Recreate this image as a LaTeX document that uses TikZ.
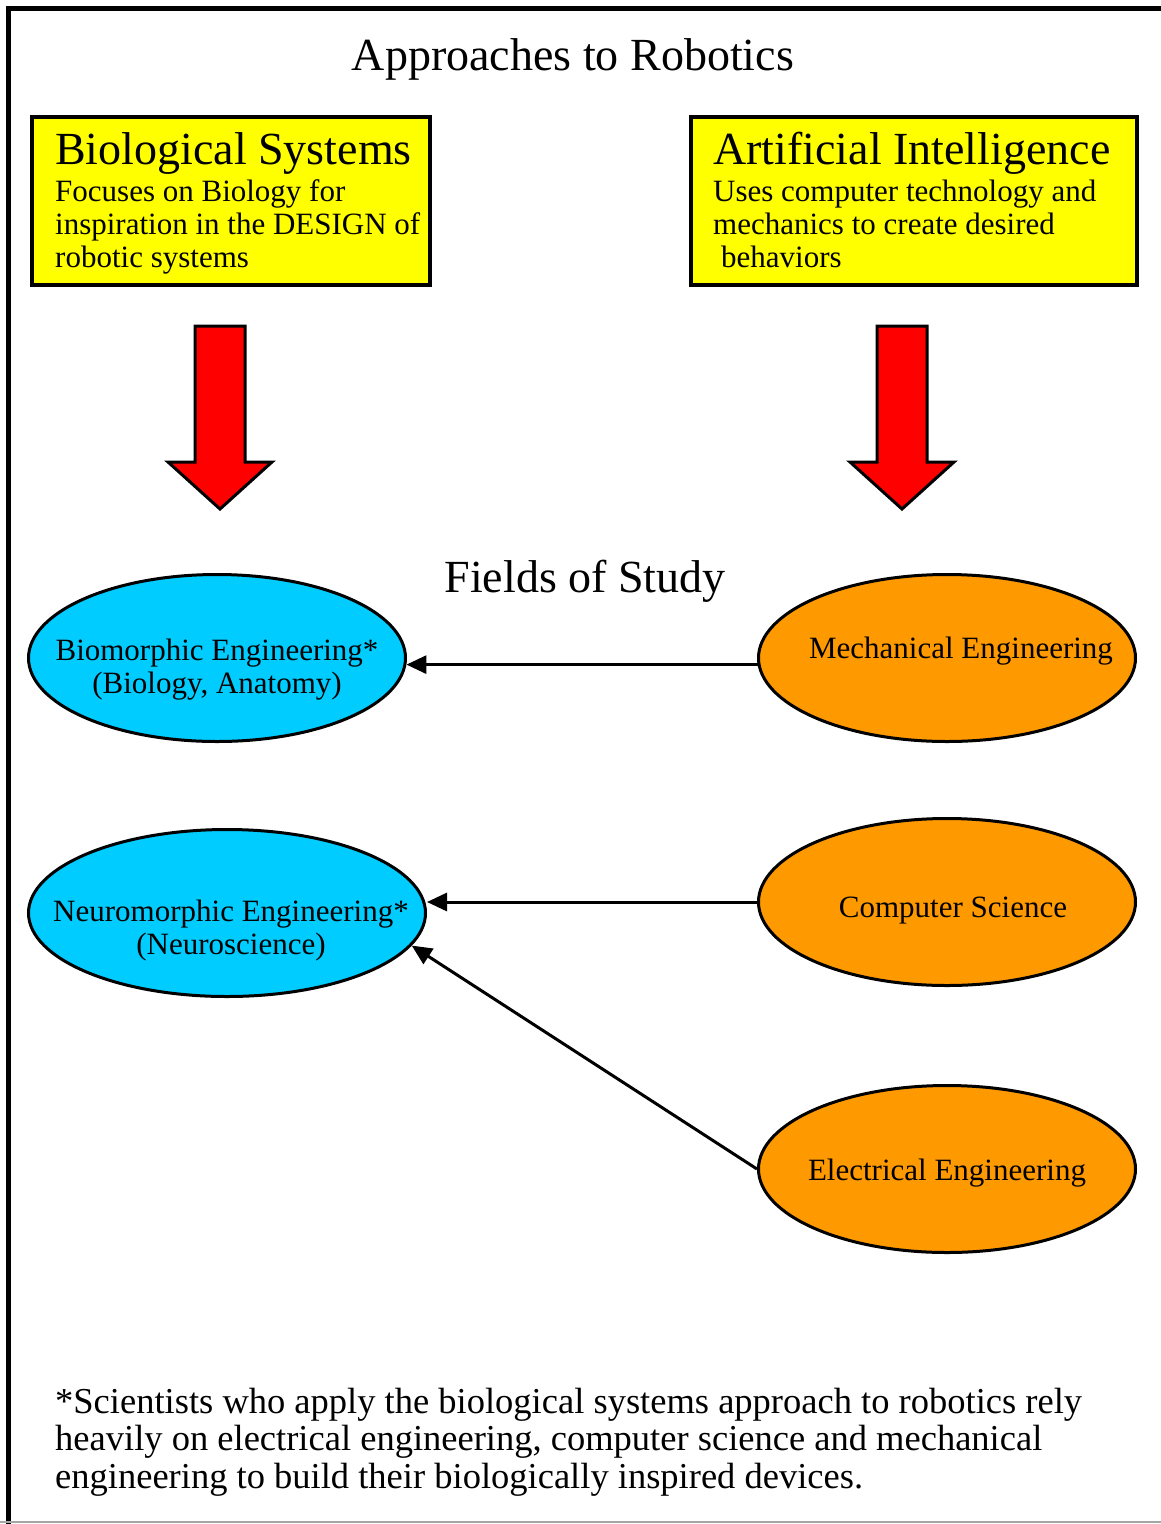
\documentclass[tikz,border=0pt]{standalone}
\usepackage{fontspec}
\setmainfont{Liberation Serif}
\usetikzlibrary{shapes.geometric, arrows.meta}

\definecolor{boxyellow}{HTML}{FFFF00}
\definecolor{biocyan}{HTML}{00CCFF}
\definecolor{aiorange}{HTML}{FF9900}
\definecolor{bigred}{HTML}{FF0000}

\tikzset{
	heading/.style = {font = \fontsize{46pt}{50pt}\selectfont, inner sep = 0pt},
	approach/.style = {draw, line width = 4pt, fill = boxyellow, anchor = north west, inner sep = 0pt, minimum height = 168pt},
	approachtext/.style = {font = \fontsize{31pt}{33pt}\selectfont, align = left, anchor = base west, inner sep = 0pt},
	field/.style = {ellipse, draw, line width = 3pt, minimum width = 377pt, minimum height = 167pt, inner sep = 0pt},
	fieldtext/.style = {font = \fontsize{31pt}{33pt}\selectfont, align = center, inner sep = 0pt},
	bigarrow/.style = {draw, line width = 3pt, fill = bigred, line join = miter},
	conn/.style = {line width = 3pt, -{Triangle[length = 20pt, width = 18pt]}}
}

\begin{document}
\begin{tikzpicture}[x = 1pt, y = -1pt]
	\useasboundingbox (0, 0) rectangle (1161, 1524);
	
	%	frame
	\draw[line width = 5pt] (8.5, 1524) -- (8.5, 8.5) -- (1161, 8.5);
	\draw[line width = 2pt, black!35] (0, 1522) -- (1161, 1522);
	
	%	titles
	\node[heading, anchor = base] (title) at (573, 70) {Approaches to Robotics};
	\node[heading, anchor = base] (fields) at (585, 592) {Fields of Study};
	
	%	approaches (base = last line)
	\node[approach, minimum width = 398pt] (biobox) at (30, 115) {};
	\node[approach, minimum width = 446pt] (aibox) at (689, 115) {};
	\node[approachtext] (biotext) at (55, 267) {{\fontsize{46pt}{50pt}\selectfont Biological Systems}\\[4pt]
		Focuses on Biology for\\ inspiration in the DESIGN of\\ robotic systems};
	\node[approachtext] (aitext) at (713, 267) {{\fontsize{46pt}{50pt}\selectfont Artificial Intelligence}\\[4pt]
		Uses computer technology and\\ mechanics to create desired\\ \hspace*{8pt}behaviors};
	
	%	red arrows
	\def\shaft{25}
	\def\head{52}
	\foreach \x in {220, 902}
		\draw[bigarrow] (\x-\shaft, 326) -- (\x+\shaft, 326) -- (\x+\shaft, 462) -- (\x+\head, 462)
			-- (\x, 509) -- (\x-\head, 462) -- (\x-\shaft, 462) -- cycle;
	
	%	fields of study
	\node[field, fill = biocyan, label = {[fieldtext, yshift = -12pt]center:{Biomorphic Engineering*\\(Biology, Anatomy)}}] (bio) at (217, 658) {};
	\node[field, fill = biocyan, minimum width = 397pt, label = {[fieldtext, xshift = 4pt, yshift = -18pt]center:{Neuromorphic Engineering*\\(Neuroscience)}}] (neuro) at (227, 913) {};
	\node[field, fill = aiorange, label = {[fieldtext, xshift = 14pt, yshift = 7pt]center:Mechanical Engineering}] (mech) at (947, 658) {};
	\node[field, fill = aiorange, label = {[fieldtext, xshift = 6pt, yshift = -9pt]center:Computer Science}] (cs) at (947, 902) {};
	\node[field, fill = aiorange, label = {[fieldtext, yshift = -4pt]center:Electrical Engineering}] (elec) at (947, 1169) {};
	
	%	connections
	\draw[conn] (mech.182.5) -- (bio.-2.5);
	\draw[conn] (cs.west) -- (cs.west -| neuro.east);
	\draw[conn] (elec.west) -- (neuro.-10);
	
	%	footnote
	\node[font = \fontsize{36.5pt}{37.5pt}\selectfont, align = left, anchor = base west, inner sep = 0pt] (note) at (55, 1488)
		{*Scientists who apply the biological systems approach to robotics rely\\
		heavily on electrical engineering, computer science and mechanical\\
		engineering to build their biologically inspired devices.};
\end{tikzpicture}
\end{document}
